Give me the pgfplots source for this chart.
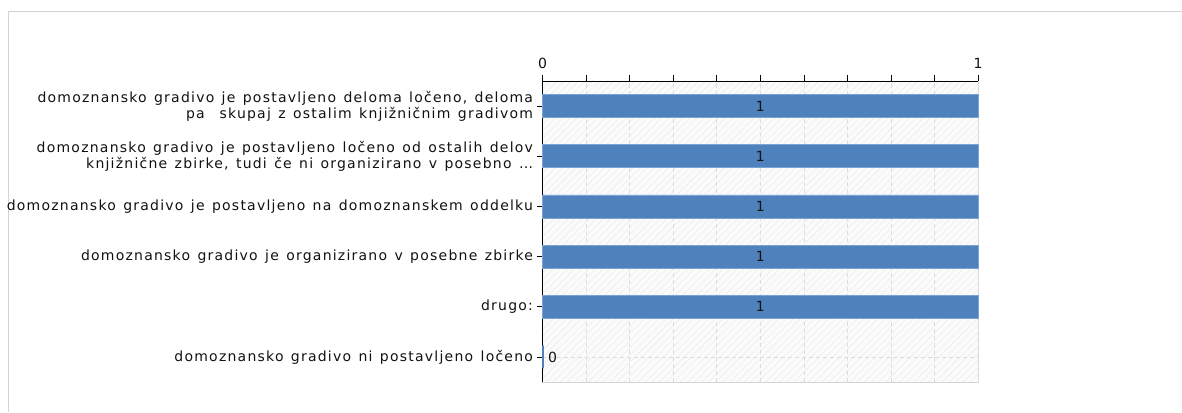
\documentclass[border=0pt]{standalone}
\usepackage{fontspec}
\setmainfont{DejaVu Sans}
\newfontfamily\lab{DejaVu Sans}[LetterSpace=8.8, WordSpace=1.3]
\usepackage{pgfplots}
\pgfplotsset{compat=1.18}
\usetikzlibrary{patterns.meta}
\definecolor{barblue}{HTML}{4F81BD}
\definecolor{barline}{HTML}{7AA3D6}
\definecolor{gridc}{HTML}{DCDCDC}
\definecolor{framec}{HTML}{D4D4D4}
\definecolor{txt}{HTML}{111111}
\newcommand{\labfont}{\lab\fontsize{14}{16}\selectfont}

\begin{document}
\begin{tikzpicture}[x=1pt,y=1pt]
\path[use as bounding box] (0,0) rectangle (1182,412);
\draw[framec, line width=1pt] (8,0) -- (8,400.5) -- (1182,400.5);
\begin{axis}[
  at={(542.5pt,30pt)}, anchor=south west,
  scale only axis, width=435.5pt, height=301pt,
  xmin=0, xmax=1, ymin=-0.5, ymax=5.5,
  axis x line=top, axis y line=left,
  axis line style={-, black, line width=0.8pt},
  tick align=outside,
  major tick length=6pt, minor tick length=6pt,
  tick style={black, line width=0.6pt},
  xtick={0,1}, xticklabels={0,1},
  minor xtick={0.1,0.2,0.3,0.4,0.5,0.6,0.7,0.8,0.9},
  xmajorgrids, xminorgrids, ymajorgrids,
  major grid style={gridc, dash pattern=on 4pt off 3pt, line width=0.6pt},
  minor grid style={gridc, dash pattern=on 4pt off 3pt, line width=0.6pt},
  ytick={0,1,2,3,4,5},
  yticklabels={
    {domoznansko gradivo ni postavljeno ločeno},
    {drugo:},
    {domoznansko gradivo je organizirano v posebne zbirke},
    {domoznansko gradivo je postavljeno na domoznanskem oddelku},
    {domoznansko gradivo je postavljeno ločeno od ostalih delov\\knjižnične zbirke, tudi če ni organizirano v posebno \dots},
    {domoznansko gradivo je postavljeno deloma ločeno, deloma\\pa\ \ skupaj z ostalim knjižničnim gradivom}},
  yticklabel style={align=right, font=\labfont, text=txt},
  xticklabel style={font=\labfont, text=txt, yshift=3pt},
  axis background/.style={fill=gray!3, draw=framec,
    postaction={pattern={Lines[angle=45,distance=5pt,line width=0.6pt]}, pattern color=gray!14}},
  clip=false,
]
\addplot[xbar, bar shift=0pt, bar width=23pt, fill=barblue, draw=barline, line width=0.8pt]
  coordinates {(1,5) (1,4) (1,3) (1,2) (1,1)};
\addplot[xbar, bar shift=0pt, bar width=23pt, fill=barblue, draw=barblue, line width=2pt]
  coordinates {(0,0)};
\addplot[draw=none, mark=none, nodes near coords, point meta=explicit symbolic,
  every node near coord/.append style={anchor=center, font=\labfont, text=txt}]
  coordinates {(0.5,5)[1] (0.5,4)[1] (0.5,3)[1] (0.5,2)[1] (0.5,1)[1]};
\addplot[draw=none, mark=none, nodes near coords, point meta=explicit symbolic,
  every node near coord/.append style={anchor=west, xshift=2pt, font=\labfont, text=txt}]
  coordinates {(0,0)[0]};
\end{axis}
\end{tikzpicture}
\end{document}
